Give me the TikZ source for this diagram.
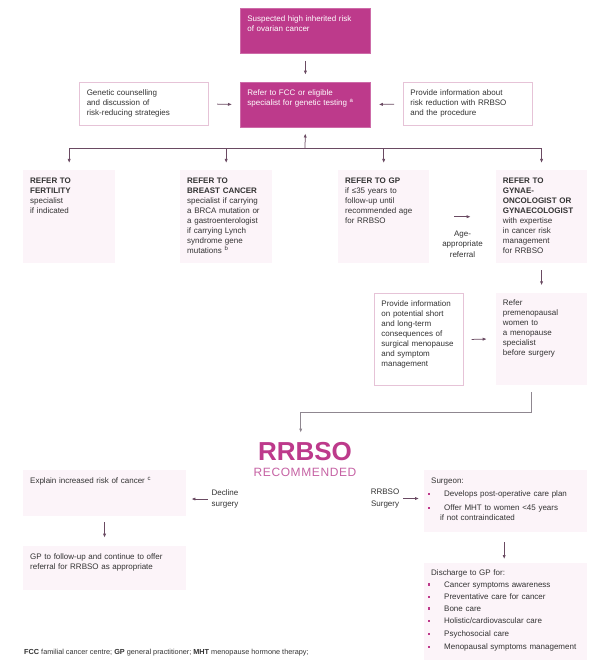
\documentclass[tikz,border=0pt]{standalone}
\usepackage{fontspec}
\setmainfont{Liberation Sans}
\usetikzlibrary{arrows.meta}
\definecolor{rrmag}{HTML}{BD3A8B}
\definecolor{rrrec}{HTML}{C662A4}
\definecolor{rrlight}{HTML}{FCF4F9}
\definecolor{rrborder}{HTML}{E6C3D7}
\definecolor{rrarrow}{HTML}{6A4A62}
\definecolor{rrgrey}{HTML}{8F8790}
\definecolor{rrtext}{HTML}{333333}
% bullet item with hanging indent
\newcommand{\bitem}[2][3pt]{\par\vspace{#1}\noindent\makebox[13pt][l]{\hspace{-3.5pt}\textcolor{rrmag}{\rule[1.6pt]{2.2pt}{2.2pt}}}#2}
\begin{document}
\begin{tikzpicture}[x=1pt,y=-1pt,>={Latex[length=4pt,width=3.2pt]},
    every node/.style={font=\fontsize{8}{10}\selectfont,text=rrtext},
    panel/.style 2 args={anchor=north west,inner xsep=7pt,inner ysep=5pt,text width=#1,text height=8pt,text depth=#2,align=left},
    magbox/.style={fill=rrmag,draw=rrmag!75!white,line width=0.8pt,text=white},
    linebox/.style={fill=white,draw=rrborder,line width=0.9pt},
    softbox/.style={fill=rrlight},
    link/.style={draw=rrarrow,line width=0.75pt},
    label/.style={inner sep=0pt,align=center}]
  \path[use as bounding box,fill=white] (0,0) rectangle (597,660);
  % top row
  \node[panel={116pt}{26.7pt},magbox] (susp) at (240,8.3) {Suspected high inherited risk\\of ovarian cancer};
  \node[panel={116pt}{27pt},magbox] (fcc) at (240,81.7) {Refer to FCC or eligible\\specialist for genetic testing \textsuperscript{a}};
  \node[panel={115pt}{25pt},linebox] (couns) at (79.3,82) {Genetic counselling\\and discussion of\\risk-reducing strategies};
  \node[panel={115pt}{25pt},linebox] (info) at (403,82) {Provide information about\\risk reduction with RRBSO\\and the procedure};
  % referral row
  \node[panel={78pt}{75pt},softbox] (fert) at (23,170) {\textbf{REFER TO}\\\textbf{FERTILITY}\\specialist\\if indicated};
  \node[panel={78pt}{75pt},softbox] (breast) at (180,170) {\textbf{REFER TO}\\\textbf{BREAST CANCER}\\specialist if carrying\\a BRCA mutation or\\a gastroenterologist\\if carrying Lynch\\syndrome gene\\mutations \textsuperscript{b}};
  \node[panel={77pt}{75pt},softbox] (gp) at (338,170) {\textbf{REFER TO GP}\\if ≤35 years to\\follow-up until\\recommended age\\for RRBSO};
  \node[panel={77.3pt}{75pt},softbox] (gynae) at (495.7,170) {\textbf{REFER TO}\\\textbf{GYNAE-}\\\textbf{ONCOLOGIST OR}\\\textbf{GYNAECOLOGIST}\\with expertise\\in cancer risk\\management\\for RRBSO};
  \node[label,anchor=north,font=\fontsize{8}{10.7}\selectfont] (age) at (462.5,230.3) {Age-\\appropriate\\referral};
  % pre-surgery
  \node[panel={75.3pt}{73.7pt},linebox] (conseq) at (374,293.3) {Provide information\\on potential short\\and long-term\\consequences of\\surgical menopause\\and symptom\\management};
  \node[panel={77.3pt}{74.7pt},softbox] (meno) at (495.7,292.3) {Refer\\premenopausal\\women to\\a menopause\\specialist\\before surgery};
  % decision
  \node[inner sep=0pt,anchor=base,font=\fontsize{26}{26}\selectfont\bfseries,text=rrmag] (rrbso) at (305,460) {RRBSO};
  \node[inner sep=0pt,anchor=base,font=\fontsize{12}{12}\selectfont\addfontfeature{LetterSpace=5},text=rrrec] (rec) at (305,476.7) {RECOMMENDED};
  \node[panel={148.7pt}{27.7pt},softbox] (explain) at (23,470) {Explain increased risk of cancer \textsuperscript{c}};
  \node[panel={148.7pt}{26pt},softbox] (follow) at (23,546) {GP to follow-up and continue to offer\\referral for RRBSO as appropriate};
  \node[label,anchor=west,align=left,font=\fontsize{8}{11}\selectfont] (decline) at (211.5,499) {Decline\\surgery};
  \node[label,anchor=east,font=\fontsize{8}{12.6}\selectfont] (rrsurg) at (399.5,498.5) {RRBSO\\Surgery};
  \node[panel={149pt}{44pt},softbox] (surgeon) at (424,470) {Surgeon:\bitem[3.3pt]{Develops post-operative care plan}\bitem[4pt]{Offer MHT to women <45 years}\par\noindent\hspace*{9pt}if not contraindicated};
  \node[panel={149pt}{79.3pt},softbox] (discharge) at (424,562.7) {Discharge to GP for:\bitem[1.2pt]{Cancer symptoms awareness}\bitem[2.6pt]{Preventative care for cancer}\bitem[1.4pt]{Bone care}\bitem[2.2pt]{Holistic/cardiovascular care}\bitem[3.4pt]{Psychosocial care}\bitem[2.6pt]{Menopausal symptoms management}};
  \node[inner sep=0pt,anchor=base west,font=\fontsize{7.3}{9}\selectfont] (abbrev) at (24,654) {\textbf{FCC} familial cancer centre; \textbf{GP} general practitioner; \textbf{MHT} menopause hormone therapy;};
  % connectors
  \coordinate (hub) at (305,148.3);
  \coordinate (turn) at (531.7,412.7);
  \draw[->,link,shorten <=7pt,shorten >=7pt] (susp.south) -- (fcc.north);
  \draw[->,link,shorten <=8pt,shorten >=8pt] (couns.east) -- (fcc.west);
  \draw[->,link,shorten <=9pt,shorten >=8pt] (info.west) -- (fcc.east);
  \draw[->,link,shorten >=6pt] (hub) -- (fcc.south);
  \draw[link] (fert.north |- hub) -- (gynae.north |- hub);
  \foreach \n in {fert,breast,gp,gynae}
    \draw[->,link,shorten >=7pt] (\n.north |- hub) -- (\n.north);
  \draw[->,link,shorten <=25pt,shorten >=25pt] (gp.east) -- (gynae.west);
  \draw[->,link,shorten <=7pt,shorten >=7pt] (gynae.south) -- (meno.north);
  \draw[->,link,shorten <=7.5pt,shorten >=9pt] (conseq.east) -- (meno.west);
  \draw[->,draw=rrgrey,line width=0.9pt,shorten <=6.7pt,shorten >=9pt] (meno.south -| turn) -- (turn) -| ([xshift=-4.3pt]rrbso.north);
  \draw[->,link,shorten <=4pt,shorten >=5.3pt] (decline.west) -- (decline.west -| explain.east);
  \draw[->,link,shorten <=6.3pt,shorten >=8.3pt] (explain.south) -- (follow.north);
  \draw[->,link,shorten <=3.5pt,shorten >=5pt] (rrsurg.east) -- (rrsurg.east -| surgeon.west);
  \draw[->,link,shorten <=9.7pt,shorten >=3.7pt] ([xshift=-1.5pt]surgeon.south) -- ([xshift=-1.5pt]discharge.north);
\end{tikzpicture}
\end{document}
